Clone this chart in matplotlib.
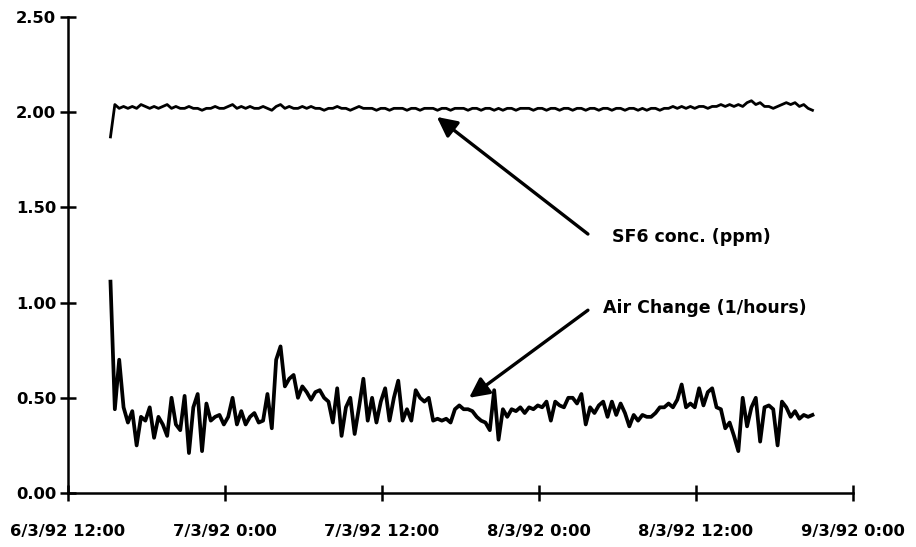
import matplotlib
matplotlib.use("Agg")
import matplotlib.pyplot as plt
import matplotlib.dates as mdates
from datetime import datetime, timedelta

# ---------------- data ----------------
start_time = datetime(1992, 3, 6, 15, 15)
step_minutes = 20

air_change = [
    1.11, 0.44, 0.70, 0.45, 0.37, 0.43, 0.25, 0.40, 0.38, 0.45,
    0.29, 0.40, 0.36, 0.30, 0.50, 0.36, 0.33, 0.51, 0.21, 0.45,
    0.52, 0.22, 0.47, 0.38, 0.40, 0.41, 0.36, 0.40, 0.50, 0.36,
    0.43, 0.36, 0.40, 0.42, 0.37, 0.38, 0.52, 0.34, 0.70, 0.77,
    0.56, 0.60, 0.62, 0.50, 0.56, 0.53, 0.49, 0.53, 0.54, 0.50,
    0.48, 0.37, 0.55, 0.30, 0.45, 0.50, 0.31, 0.45, 0.60, 0.38,
    0.50, 0.37, 0.48, 0.55, 0.38, 0.50, 0.59, 0.38, 0.44, 0.38,
    0.54, 0.50, 0.48, 0.50, 0.38, 0.39, 0.38, 0.39, 0.37, 0.44,
    0.46, 0.44, 0.44, 0.43, 0.40, 0.38, 0.37, 0.33, 0.54, 0.28,
    0.44, 0.40, 0.44, 0.43, 0.45, 0.42, 0.45, 0.44, 0.46, 0.45,
    0.48, 0.38, 0.48, 0.46, 0.45, 0.50, 0.50, 0.47, 0.52, 0.36,
    0.45, 0.42, 0.46, 0.48, 0.40, 0.48, 0.41, 0.47, 0.42, 0.35,
    0.41, 0.38, 0.41, 0.40, 0.40, 0.42, 0.45, 0.45, 0.47, 0.45,
    0.49, 0.57, 0.45, 0.47, 0.45, 0.55, 0.46, 0.53, 0.55, 0.45,
    0.44, 0.34, 0.37, 0.30, 0.22, 0.50, 0.35, 0.45, 0.50, 0.27,
    0.45, 0.46, 0.44, 0.25, 0.48, 0.45, 0.40, 0.43, 0.39, 0.41,
    0.40, 0.41,
]

sf6_conc = [
    1.87, 2.04, 2.02, 2.03, 2.02, 2.03, 2.02, 2.04, 2.03, 2.02,
    2.03, 2.02, 2.03, 2.04, 2.02, 2.03, 2.02, 2.02, 2.03, 2.02,
    2.02, 2.01, 2.02, 2.02, 2.03, 2.02, 2.02, 2.03, 2.04, 2.02,
    2.03, 2.02, 2.03, 2.02, 2.02, 2.03, 2.02, 2.01, 2.03, 2.04,
    2.02, 2.03, 2.02, 2.02, 2.03, 2.02, 2.03, 2.02, 2.02, 2.01,
    2.02, 2.02, 2.03, 2.02, 2.02, 2.01, 2.02, 2.03, 2.02, 2.02,
    2.02, 2.01, 2.02, 2.02, 2.01, 2.02, 2.02, 2.02, 2.01, 2.02,
    2.02, 2.01, 2.02, 2.02, 2.02, 2.01, 2.02, 2.02, 2.01, 2.02,
    2.02, 2.02, 2.01, 2.02, 2.02, 2.01, 2.02, 2.02, 2.01, 2.02,
    2.01, 2.02, 2.02, 2.01, 2.02, 2.02, 2.02, 2.01, 2.02, 2.02,
    2.01, 2.02, 2.02, 2.01, 2.02, 2.02, 2.01, 2.02, 2.02, 2.01,
    2.02, 2.02, 2.01, 2.02, 2.02, 2.01, 2.02, 2.02, 2.01, 2.02,
    2.02, 2.01, 2.02, 2.01, 2.02, 2.02, 2.01, 2.02, 2.02, 2.03,
    2.02, 2.03, 2.02, 2.03, 2.02, 2.03, 2.03, 2.02, 2.03, 2.03,
    2.04, 2.03, 2.04, 2.03, 2.04, 2.03, 2.05, 2.06, 2.04, 2.05,
    2.03, 2.03, 2.02, 2.03, 2.04, 2.05, 2.04, 2.05, 2.03, 2.04,
    2.02, 2.01,
]

x_ticks = [datetime(1992, 3, 6, 12), datetime(1992, 3, 7, 0), datetime(1992, 3, 7, 12),
           datetime(1992, 3, 8, 0), datetime(1992, 3, 8, 12), datetime(1992, 3, 9, 0)]
x_tick_labels = ["6/3/92 12:00", "7/3/92 0:00", "7/3/92 12:00",
                 "8/3/92 0:00", "8/3/92 12:00", "9/3/92 0:00"]
y_ticks = [0.0, 0.5, 1.0, 1.5, 2.0, 2.5]
y_tick_labels = ["0.00", "0.50", "1.00", "1.50", "2.00", "2.50"]

sf6_label = "SF6 conc. (ppm)"
air_label = "Air Change (1/hours)"

# ---------------- plot ----------------
times = [start_time + timedelta(minutes=step_minutes * i) for i in range(len(air_change))]

fig = plt.figure(figsize=(9.16, 5.47), dpi=100)
ax = fig.add_axes([0.0742, 0.0987, 0.931 - 0.0742, 0.969 - 0.0987])

ax.plot(times, sf6_conc, color="black", lw=2.0, solid_joinstyle="round")
ax.plot(times, air_change, color="black", lw=2.7, solid_joinstyle="round")

ax.set_xlim(x_ticks[0], x_ticks[-1])
ax.set_ylim(0, 2.5)

for s in ["top", "right"]:
    ax.spines[s].set_visible(False)
for s in ["left", "bottom"]:
    ax.spines[s].set_linewidth(1.8)

ax.set_xticks(x_ticks)
ax.set_xticklabels(x_tick_labels)
ax.set_yticks(y_ticks)
ax.set_yticklabels(y_tick_labels)

font = dict(family="DejaVu Sans", weight="bold", size=12.5)
for lab in ax.get_xticklabels() + ax.get_yticklabels():
    lab.set_fontfamily("DejaVu Sans")
    lab.set_fontweight("bold")
    lab.set_fontsize(11.8)

ax.tick_params(axis="both", direction="inout", length=11, width=1.8, color="black")
ax.tick_params(axis="x", pad=17)
ax.tick_params(axis="y", pad=3)

arrow = dict(arrowstyle="-|>", color="black", lw=2.4, mutation_scale=30, shrinkA=0, shrinkB=0)

ax.annotate("", xy=(datetime(1992, 3, 7, 16, 12), 1.975),
            xytext=(datetime(1992, 3, 8, 3, 45), 1.36), arrowprops=arrow)
ax.text(datetime(1992, 3, 8, 5, 35), 1.345, sf6_label, va="center", ha="left", **font)

ax.annotate("", xy=(datetime(1992, 3, 7, 18, 40), 0.50),
            xytext=(datetime(1992, 3, 8, 3, 45), 0.96), arrowprops=arrow)
ax.text(datetime(1992, 3, 8, 4, 55), 0.97, air_label, va="center", ha="left", **font)

fig.savefig("out.png", dpi=100, facecolor="white")
